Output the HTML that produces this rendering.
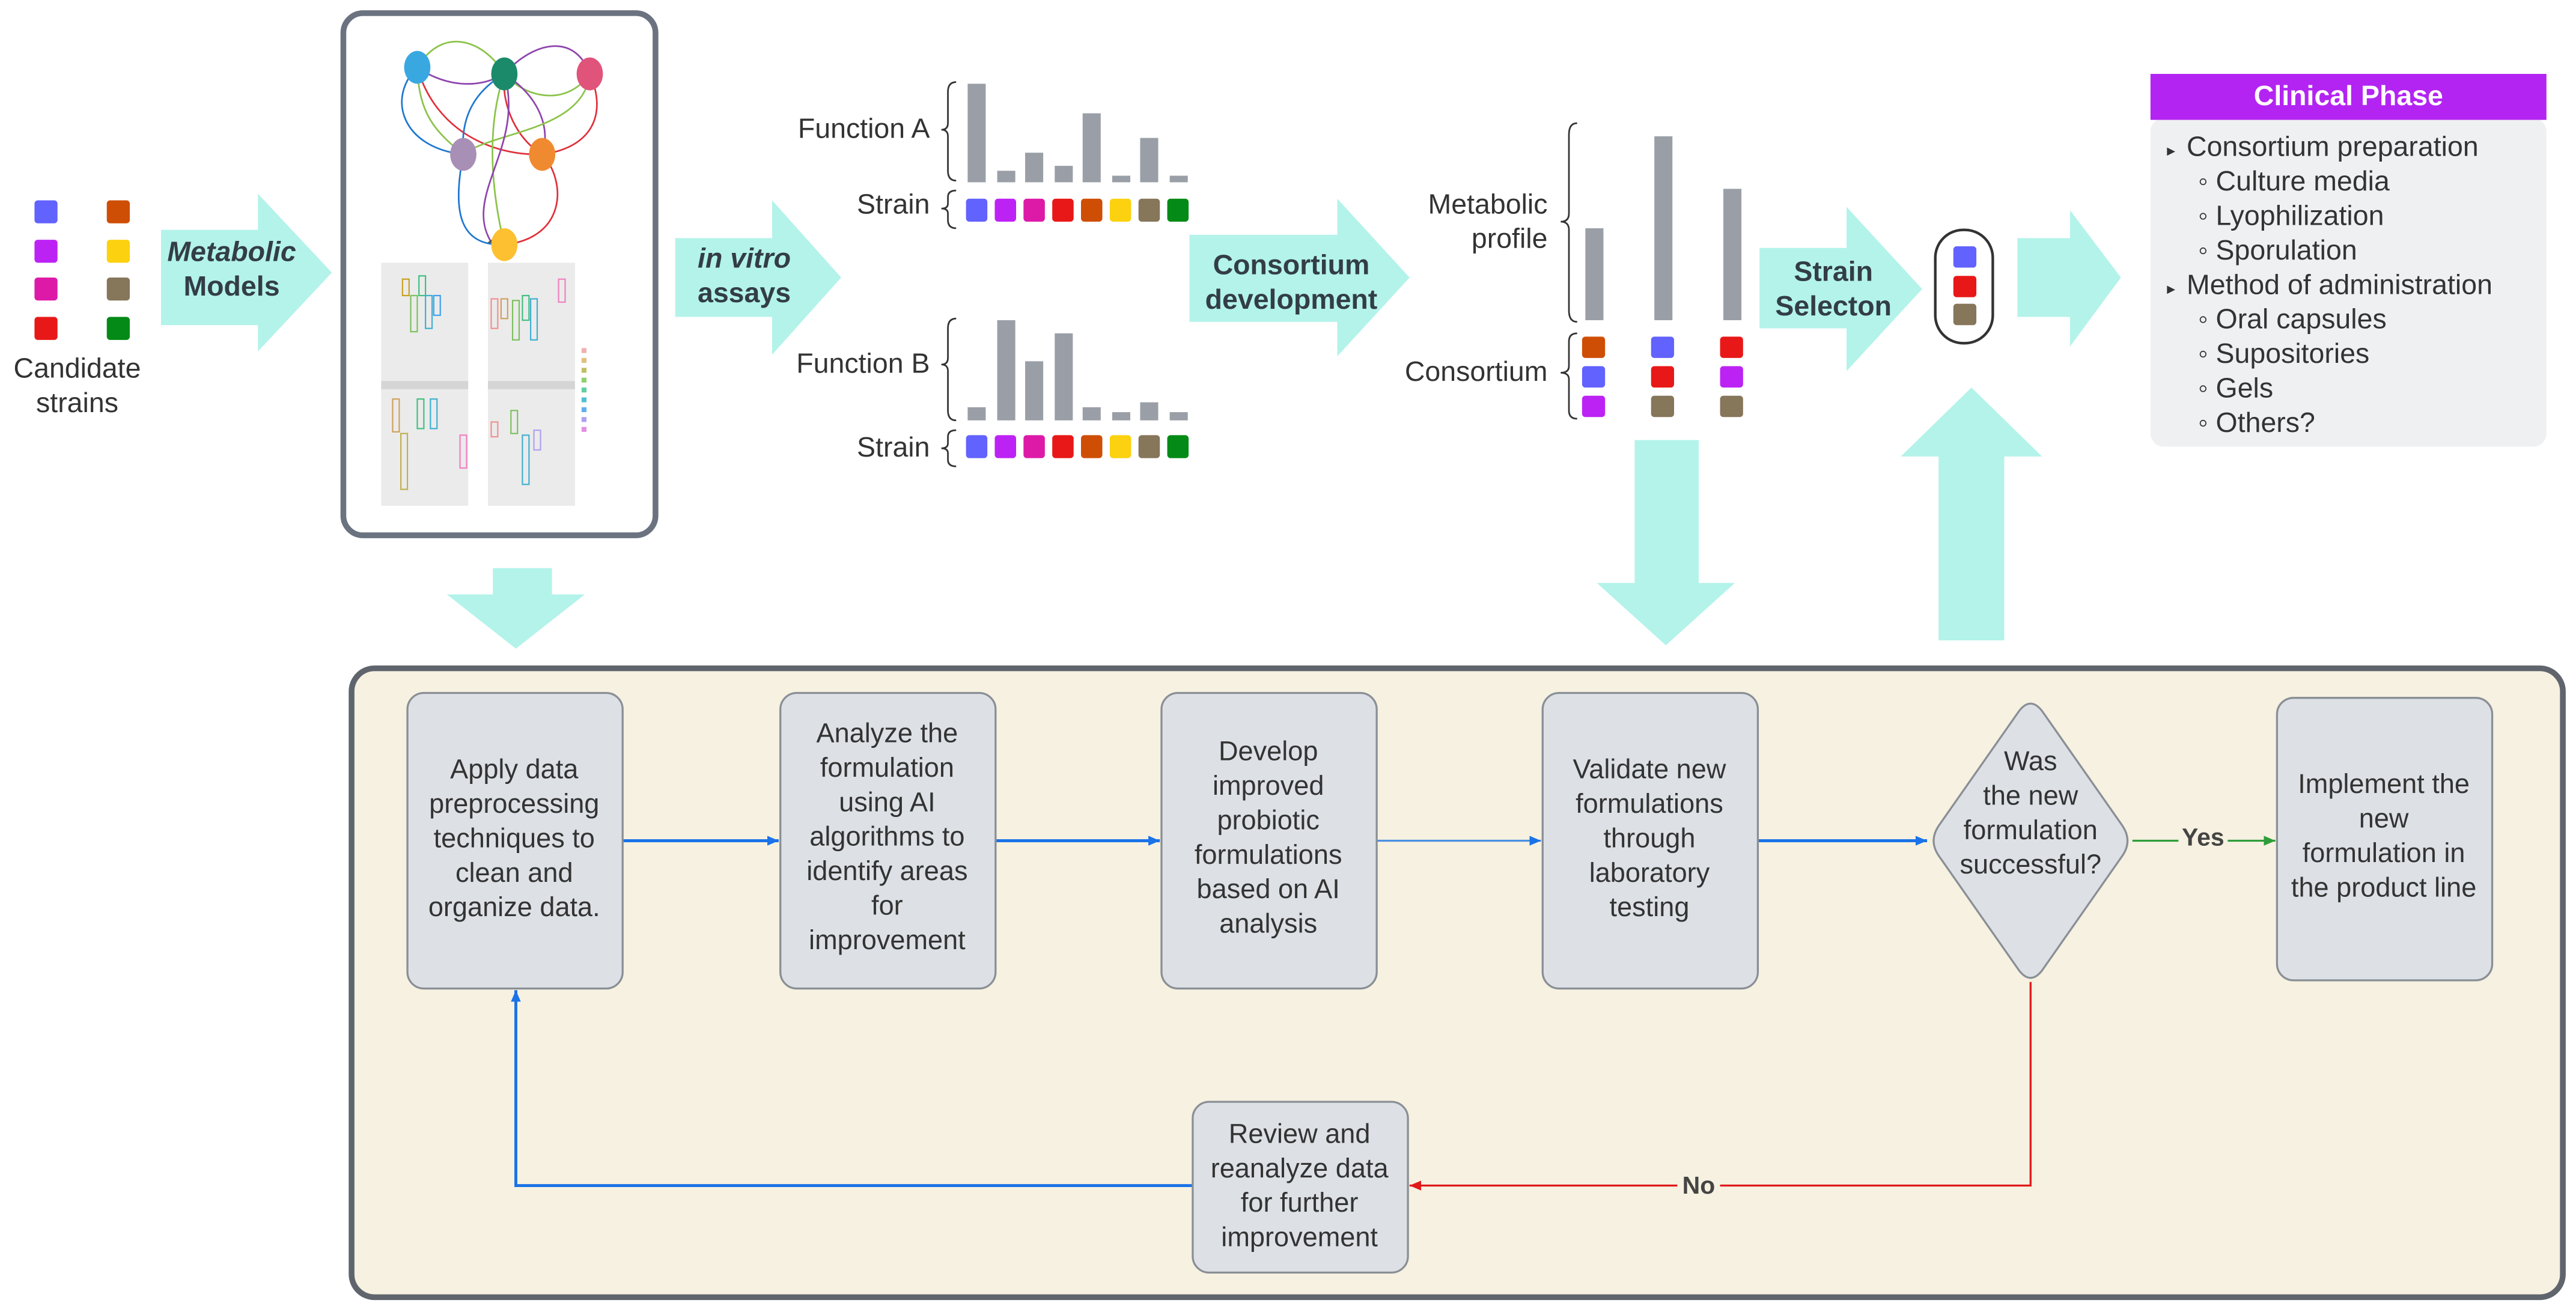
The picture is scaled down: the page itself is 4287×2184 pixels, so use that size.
<!DOCTYPE html>
<html><head><meta charset="utf-8"><style>
html,body{margin:0;padding:0;background:#fff;}
svg{display:block;}
text{font-family:"Liberation Sans",sans-serif;}
</style></head><body>
<svg width="4287" height="2184" viewBox="0 0 1568 799" preserveAspectRatio="none" xmlns="http://www.w3.org/2000/svg">
<defs>
<marker id="ab" markerWidth="8" markerHeight="8" refX="7" refY="4" orient="auto" markerUnits="userSpaceOnUse"><path d="M0,1 L7,4 L0,7 z" fill="#1a73e8"/></marker>
<marker id="ag" markerWidth="8" markerHeight="8" refX="7" refY="4" orient="auto" markerUnits="userSpaceOnUse"><path d="M0,1 L7,4 L0,7 z" fill="#2e9d3a"/></marker>
<marker id="ar" markerWidth="8" markerHeight="8" refX="7" refY="4" orient="auto" markerUnits="userSpaceOnUse"><path d="M0,1 L7,4 L0,7 z" fill="#e0191b"/></marker>
<marker id="s" markerWidth="4" markerHeight="4" refX="3" refY="2" orient="auto" markerUnits="userSpaceOnUse"><path d="M0,0 L3,2 L0,4z" fill="#555"/></marker>
</defs>

<!-- candidate strains -->
<g>
<rect x="21" y="122" width="14" height="14" rx="2" fill="#6262ff"/>
<rect x="65" y="122" width="14" height="14" rx="2" fill="#cf4e05"/>
<rect x="21" y="146" width="14" height="14" rx="2" fill="#bd22f5"/>
<rect x="65" y="146" width="14" height="14" rx="2" fill="#fcd10f"/>
<rect x="21" y="169" width="14" height="14" rx="2" fill="#dd1aa8"/>
<rect x="65" y="169" width="14" height="14" rx="2" fill="#86765a"/>
<rect x="21" y="193" width="14" height="14" rx="2" fill="#e81818"/>
<rect x="65" y="193" width="14" height="14" rx="2" fill="#048a16"/>
<text x="47" y="230" font-size="17" text-anchor="middle" fill="#333">Candidate</text>
<text x="47" y="251" font-size="17" text-anchor="middle" fill="#333">strains</text>
</g>

<!-- arrow 1 -->
<path d="M98,140 H157 V118 L202,166 L157,214 V198 H98 Z" fill="#b3f3ea"/>
<text x="141" y="159" font-size="17" font-weight="bold" font-style="italic" text-anchor="middle" fill="#333d47">Metabolic</text>
<text x="141" y="180" font-size="17" font-weight="bold" text-anchor="middle" fill="#333d47">Models</text>

<!-- model box -->
<rect x="209" y="8" width="190" height="318" rx="12" fill="#fff" stroke="#6b7280" stroke-width="3.5"/>
<g fill="none" stroke-width="1">
<path d="M254,41 C270,15 295,25 307,45" stroke="#8bc34a" marker-end="url(#s)"/>
<path d="M307,45 C325,25 350,20 359,45" stroke="#8e44ad" marker-end="url(#s)"/>
<path d="M307,45 C290,55 270,52 254,41" stroke="#8e44ad" marker-end="url(#s)"/>
<path d="M307,45 C320,60 345,65 359,45" stroke="#8bc34a" marker-end="url(#s)"/>
<path d="M254,41 C235,60 245,90 282,94" stroke="#1f77d0" marker-end="url(#s)"/>
<path d="M282,94 C265,80 255,70 254,41" stroke="#8bc34a" marker-end="url(#s)"/>
<path d="M254,41 C265,80 300,95 330,94" stroke="#e0303a" marker-end="url(#s)"/>
<path d="M307,45 C290,55 280,70 282,94" stroke="#1f77d0" marker-end="url(#s)"/>
<path d="M307,45 C305,65 315,85 330,94" stroke="#e0303a" marker-end="url(#s)"/>
<path d="M307,45 C330,60 335,80 330,94" stroke="#8e44ad" marker-end="url(#s)"/>
<path d="M359,45 C370,70 360,90 330,94" stroke="#e0303a" marker-end="url(#s)"/>
<path d="M282,94 C300,80 355,80 359,45" stroke="#8bc34a" marker-end="url(#s)"/>
<path d="M307,45 C295,80 300,120 307,149" stroke="#8bc34a" marker-end="url(#s)"/>
<path d="M307,45 C320,90 280,120 300,149" stroke="#8e44ad" marker-end="url(#s)"/>
<path d="M307,149 C280,150 275,130 282,94" stroke="#1f77d0" marker-end="url(#s)"/>
<path d="M307,149 C345,145 345,110 330,94" stroke="#e0303a" marker-end="url(#s)"/>
</g>
<ellipse cx="254" cy="41" rx="8" ry="10" fill="#3aa8e0"/>
<ellipse cx="307" cy="45" rx="8" ry="10" fill="#1b8a6b"/>
<ellipse cx="359" cy="45" rx="8" ry="10" fill="#e0537a"/>
<ellipse cx="282" cy="94" rx="8" ry="10" fill="#a88fb5"/>
<ellipse cx="330" cy="94" rx="8" ry="10" fill="#f08a30"/>
<ellipse cx="307" cy="149" rx="8" ry="10" fill="#fcc030"/>
<g>
<rect x="232" y="160" width="53" height="72" fill="#ebebeb"/>
<rect x="297" y="160" width="53" height="72" fill="#ebebeb"/>
<rect x="232" y="236" width="53" height="72" fill="#ebebeb"/>
<rect x="297" y="236" width="53" height="72" fill="#ebebeb"/>
<rect x="232" y="232" width="53" height="5" fill="#d5d5d5"/>
<rect x="297" y="232" width="53" height="5" fill="#d5d5d5"/>
<g fill="none" stroke-width="0.8">
<rect x="245" y="170" width="4" height="10" stroke="#c8a020"/>
<rect x="250" y="180" width="4" height="22" stroke="#7cc060"/>
<rect x="255" y="168" width="4" height="12" stroke="#40c080"/>
<rect x="259" y="180" width="4" height="20" stroke="#40b0d0"/>
<rect x="264" y="180" width="4" height="12" stroke="#40a0f0"/>
<rect x="299" y="182" width="4" height="18" stroke="#f09090"/>
<rect x="305" y="182" width="4" height="12" stroke="#d0a060"/>
<rect x="312" y="183" width="4" height="24" stroke="#7cc060"/>
<rect x="318" y="180" width="4" height="15" stroke="#40c080"/>
<rect x="323" y="182" width="4" height="25" stroke="#40b0d0"/>
<rect x="340" y="170" width="4" height="14" stroke="#f080c0"/>
<rect x="239" y="243" width="4" height="20" stroke="#d0a060"/>
<rect x="244" y="264" width="4" height="34" stroke="#c0b050"/>
<rect x="254" y="243" width="4" height="18" stroke="#40c080"/>
<rect x="262" y="243" width="4" height="18" stroke="#40b0d0"/>
<rect x="280" y="265" width="4" height="20" stroke="#f080c0"/>
<rect x="299" y="257" width="4" height="9" stroke="#f09090"/>
<rect x="311" y="250" width="4" height="14" stroke="#7cc060"/>
<rect x="318" y="265" width="4" height="30" stroke="#40b0d0"/>
<rect x="325" y="262" width="4" height="12" stroke="#b0a0f0"/>
</g>
<g fill="#f0b0b0"><rect x="354" y="212" width="3" height="3"/><rect x="354" y="218" width="3" height="3" fill="#e0c080"/><rect x="354" y="224" width="3" height="3" fill="#c0c060"/><rect x="354" y="230" width="3" height="3" fill="#90d070"/><rect x="354" y="236" width="3" height="3" fill="#60d0a0"/><rect x="354" y="242" width="3" height="3" fill="#50c0d0"/><rect x="354" y="248" width="3" height="3" fill="#60b0f0"/><rect x="354" y="254" width="3" height="3" fill="#b0a0f0"/><rect x="354" y="260" width="3" height="3" fill="#e090e0"/></g>
</g>

<!-- down arrow under model -->
<path d="M300,346 H336 V362 H356 L314,395 L272,362 H300 Z" fill="#b3f3ea"/>

<!-- in vitro arrow -->
<path d="M411,145 H470 V122 L512,169 L470,216 V193 H411 Z" fill="#b3f3ea"/>
<text x="453" y="163" font-size="17" font-weight="bold" font-style="italic" text-anchor="middle" fill="#333d47">in vitro</text>
<text x="453" y="184" font-size="17" font-weight="bold" text-anchor="middle" fill="#333d47">assays</text>

<!-- functions -->
<g font-size="17" fill="#333" text-anchor="end">
<text x="566" y="84">Function A</text>
<text x="566" y="130">Strain</text>
<text x="566" y="227">Function B</text>
<text x="566" y="278">Strain</text>
<text x="942" y="130">Metabolic</text>
<text x="942" y="151">profile</text>
<text x="942" y="232">Consortium</text>
</g>
<g fill="none" stroke="#333" stroke-width="1">
<path d="M582,50 Q577,50 577,56 V75 Q577,79 573,79 Q577,79 577,83 V104 Q577,110 582,110"/>
<path d="M582,116 Q577,116 577,120 V124 Q577,127 573,127 Q577,127 577,130 V134 Q577,139 582,139"/>
<path d="M582,194 Q577,194 577,200 V218 Q577,222 573,222 Q577,222 577,226 V250 Q577,256 582,256"/>
<path d="M582,262 Q577,262 577,266 V270 Q577,273 573,273 Q577,273 577,276 V280 Q577,284 582,284"/>
<path d="M960,75 Q955,75 955,82 V130 Q955,135 950,135 Q955,135 955,140 V189 Q955,196 960,196"/>
<path d="M960,203 Q955,203 955,208 V223 Q955,227 950,227 Q955,227 955,231 V250 Q955,255 960,255"/>
</g>
<g fill="#9a9fa7">
<rect x="589" y="51" width="11" height="60"/><rect x="607" y="104" width="11" height="7"/><rect x="624" y="93" width="11" height="18"/><rect x="642" y="101" width="11" height="10"/><rect x="659" y="69" width="11" height="42"/><rect x="677" y="107" width="11" height="4"/><rect x="694" y="84" width="11" height="27"/><rect x="712" y="107" width="11" height="4"/>
<rect x="589" y="248" width="11" height="8"/><rect x="607" y="195" width="11" height="61"/><rect x="624" y="220" width="11" height="36"/><rect x="642" y="203" width="11" height="53"/><rect x="659" y="248" width="11" height="8"/><rect x="677" y="251" width="11" height="5"/><rect x="694" y="245" width="11" height="11"/><rect x="712" y="251" width="11" height="5"/>
<rect x="965" y="139" width="11" height="56"/><rect x="1007" y="83" width="11" height="112"/><rect x="1049" y="115" width="11" height="80"/>
</g>
<g>
<rect x="588" y="121" width="13" height="14" rx="2" fill="#6262ff"/><rect x="605.5" y="121" width="13" height="14" rx="2" fill="#bd22f5"/><rect x="623" y="121" width="13" height="14" rx="2" fill="#dd1aa8"/><rect x="640.5" y="121" width="13" height="14" rx="2" fill="#e81818"/><rect x="658" y="121" width="13" height="14" rx="2" fill="#cf4e05"/><rect x="675.5" y="121" width="13" height="14" rx="2" fill="#fcd10f"/><rect x="693" y="121" width="13" height="14" rx="2" fill="#86765a"/><rect x="710.5" y="121" width="13" height="14" rx="2" fill="#048a16"/>
<rect x="588" y="265" width="13" height="14" rx="2" fill="#6262ff"/><rect x="605.5" y="265" width="13" height="14" rx="2" fill="#bd22f5"/><rect x="623" y="265" width="13" height="14" rx="2" fill="#dd1aa8"/><rect x="640.5" y="265" width="13" height="14" rx="2" fill="#e81818"/><rect x="658" y="265" width="13" height="14" rx="2" fill="#cf4e05"/><rect x="675.5" y="265" width="13" height="14" rx="2" fill="#fcd10f"/><rect x="693" y="265" width="13" height="14" rx="2" fill="#86765a"/><rect x="710.5" y="265" width="13" height="14" rx="2" fill="#048a16"/>
</g>
<!-- consortium squares -->
<g>
<rect x="963" y="205" width="14" height="13" rx="2" fill="#cf4e05"/><rect x="963" y="223" width="14" height="13" rx="2" fill="#6262ff"/><rect x="963" y="241" width="14" height="13" rx="2" fill="#bd22f5"/>
<rect x="1005" y="205" width="14" height="13" rx="2" fill="#6262ff"/><rect x="1005" y="223" width="14" height="13" rx="2" fill="#e81818"/><rect x="1005" y="241" width="14" height="13" rx="2" fill="#86765a"/>
<rect x="1047" y="205" width="14" height="13" rx="2" fill="#e81818"/><rect x="1047" y="223" width="14" height="13" rx="2" fill="#bd22f5"/><rect x="1047" y="241" width="14" height="13" rx="2" fill="#86765a"/>
</g>

<!-- consortium development arrow -->
<path d="M724,143 H814 V121 L858,169 L814,217 V196 H724 Z" fill="#b3f3ea"/>
<text x="786" y="167" font-size="17" font-weight="bold" text-anchor="middle" fill="#333d47">Consortium</text>
<text x="786" y="188" font-size="17" font-weight="bold" text-anchor="middle" fill="#333d47">development</text>

<!-- big down arrow -->
<path d="M995,268 H1034 V355 H1056 L1014,393 L972,355 H995 Z" fill="#b3f3ea"/>

<!-- strain selection arrow -->
<path d="M1071,151 H1124 V126 L1170,176 L1124,226 V200 H1071 Z" fill="#b3f3ea"/>
<text x="1116" y="171" font-size="17" font-weight="bold" text-anchor="middle" fill="#333d47">Strain</text>
<text x="1116" y="192" font-size="17" font-weight="bold" text-anchor="middle" fill="#333d47">Selecton</text>

<!-- pill -->
<rect x="1178" y="140" width="35" height="69" rx="17" fill="#fff" stroke="#333" stroke-width="1.6"/>
<rect x="1189" y="150" width="14" height="13" rx="2" fill="#6262ff"/>
<rect x="1189" y="168" width="14" height="13" rx="2" fill="#e81818"/>
<rect x="1189" y="185" width="14" height="13" rx="2" fill="#86765a"/>

<!-- up arrow -->
<path d="M1180,390 V278 H1157 L1200,236 L1243,278 H1220 V390 Z" fill="#b3f3ea"/>

<!-- right arrow to clinical -->
<path d="M1228,145 H1260 V128 L1291,169 L1260,211 V193 H1228 Z" fill="#b3f3ea"/>

<!-- clinical phase -->
<rect x="1309" y="72" width="241" height="200" rx="8" fill="#eff0f2"/>
<rect x="1309" y="45" width="241" height="28" fill="#b324f2"/>
<text x="1429.5" y="64" font-size="17" font-weight="bold" text-anchor="middle" fill="#fff">Clinical Phase</text>
<g font-size="17" fill="#333">
<text x="1319" y="95" font-size="10">▸</text><text x="1331" y="95">Consortium preparation</text>
<text x="1338" y="116">◦ Culture media</text>
<text x="1338" y="137">◦ Lyophilization</text>
<text x="1338" y="158">◦ Sporulation</text>
<text x="1319" y="179" font-size="10">▸</text><text x="1331" y="179">Method of administration</text>
<text x="1338" y="200">◦ Oral capsules</text>
<text x="1338" y="221">◦ Supositories</text>
<text x="1338" y="242">◦ Gels</text>
<text x="1338" y="263">◦ Others?</text>
</g>

<!-- bottom panel -->
<rect x="214" y="407" width="1346" height="383" rx="14" fill="#f6f1e0" stroke="#60656d" stroke-width="3.5"/>

<!-- connectors -->
<g fill="none" stroke-width="1.8">
<line x1="379" y1="512" x2="474" y2="512" stroke="#1a73e8" marker-end="url(#ab)"/>
<line x1="606" y1="512" x2="706" y2="512" stroke="#1a73e8" marker-end="url(#ab)"/>
<line x1="838" y1="512" x2="938" y2="512" stroke="#4a90e2" stroke-width="1.2" marker-end="url(#ab)"/>
<line x1="1070" y1="512" x2="1173" y2="512" stroke="#1a73e8" marker-end="url(#ab)"/>
<line x1="1298" y1="512" x2="1385" y2="512" stroke="#2e9d3a" stroke-width="1.2" marker-end="url(#ag)"/>
<polyline points="1236,598 1236,722 858,722" stroke="#e0191b" stroke-width="1.2" marker-end="url(#ar)"/>
<polyline points="726,722 314,722 314,603" stroke="#1a73e8" marker-end="url(#ab)"/>
</g>
<rect x="1326" y="501" width="30" height="17" fill="#f6f1e0"/>
<text x="1341" y="515" font-size="15" font-weight="bold" text-anchor="middle" fill="#444">Yes</text>
<rect x="1021" y="713" width="26" height="17" fill="#f6f1e0"/>
<text x="1034" y="727" font-size="15" font-weight="bold" text-anchor="middle" fill="#444">No</text>

<!-- process boxes -->
<g fill="#dde1e6" stroke="#8a8f96" stroke-width="1.2">
<rect x="248" y="422" width="131" height="180" rx="10"/>
<rect x="475" y="422" width="131" height="180" rx="10"/>
<rect x="707" y="422" width="131" height="180" rx="10"/>
<rect x="939" y="422" width="131" height="180" rx="10"/>
<rect x="1386" y="425" width="131" height="172" rx="10"/>
<rect x="726" y="671" width="131" height="104" rx="10"/>
<path d="M1229,433 Q1236,424 1243,433 L1292,503 Q1298,512 1292,521 L1243,591 Q1236,600 1229,591 L1180,521 Q1174,512 1180,503 Z"/>
</g>
<g font-size="16.5" fill="#333" text-anchor="middle">
<text x="313" y="474">Apply data</text><text x="313" y="495">preprocessing</text><text x="313" y="516">techniques to</text><text x="313" y="537">clean and</text><text x="313" y="558">organize data.</text>
<text x="540" y="452">Analyze the</text><text x="540" y="473">formulation</text><text x="540" y="494">using AI</text><text x="540" y="515">algorithms to</text><text x="540" y="536">identify areas</text><text x="540" y="557">for</text><text x="540" y="578">improvement</text>
<text x="772" y="463">Develop</text><text x="772" y="484">improved</text><text x="772" y="505">probiotic</text><text x="772" y="526">formulations</text><text x="772" y="547">based on AI</text><text x="772" y="568">analysis</text>
<text x="1004" y="474">Validate new</text><text x="1004" y="495">formulations</text><text x="1004" y="516">through</text><text x="1004" y="537">laboratory</text><text x="1004" y="558">testing</text>
<text x="1236" y="469">Was</text><text x="1236" y="490">the new</text><text x="1236" y="511">formulation</text><text x="1236" y="532">successful?</text>
<text x="1451" y="483">Implement the</text><text x="1451" y="504">new</text><text x="1451" y="525">formulation in</text><text x="1451" y="546">the product line</text>
<text x="791" y="696">Review and</text><text x="791" y="717">reanalyze data</text><text x="791" y="738">for further</text><text x="791" y="759">improvement</text>
</g>
</svg>
</body></html>
